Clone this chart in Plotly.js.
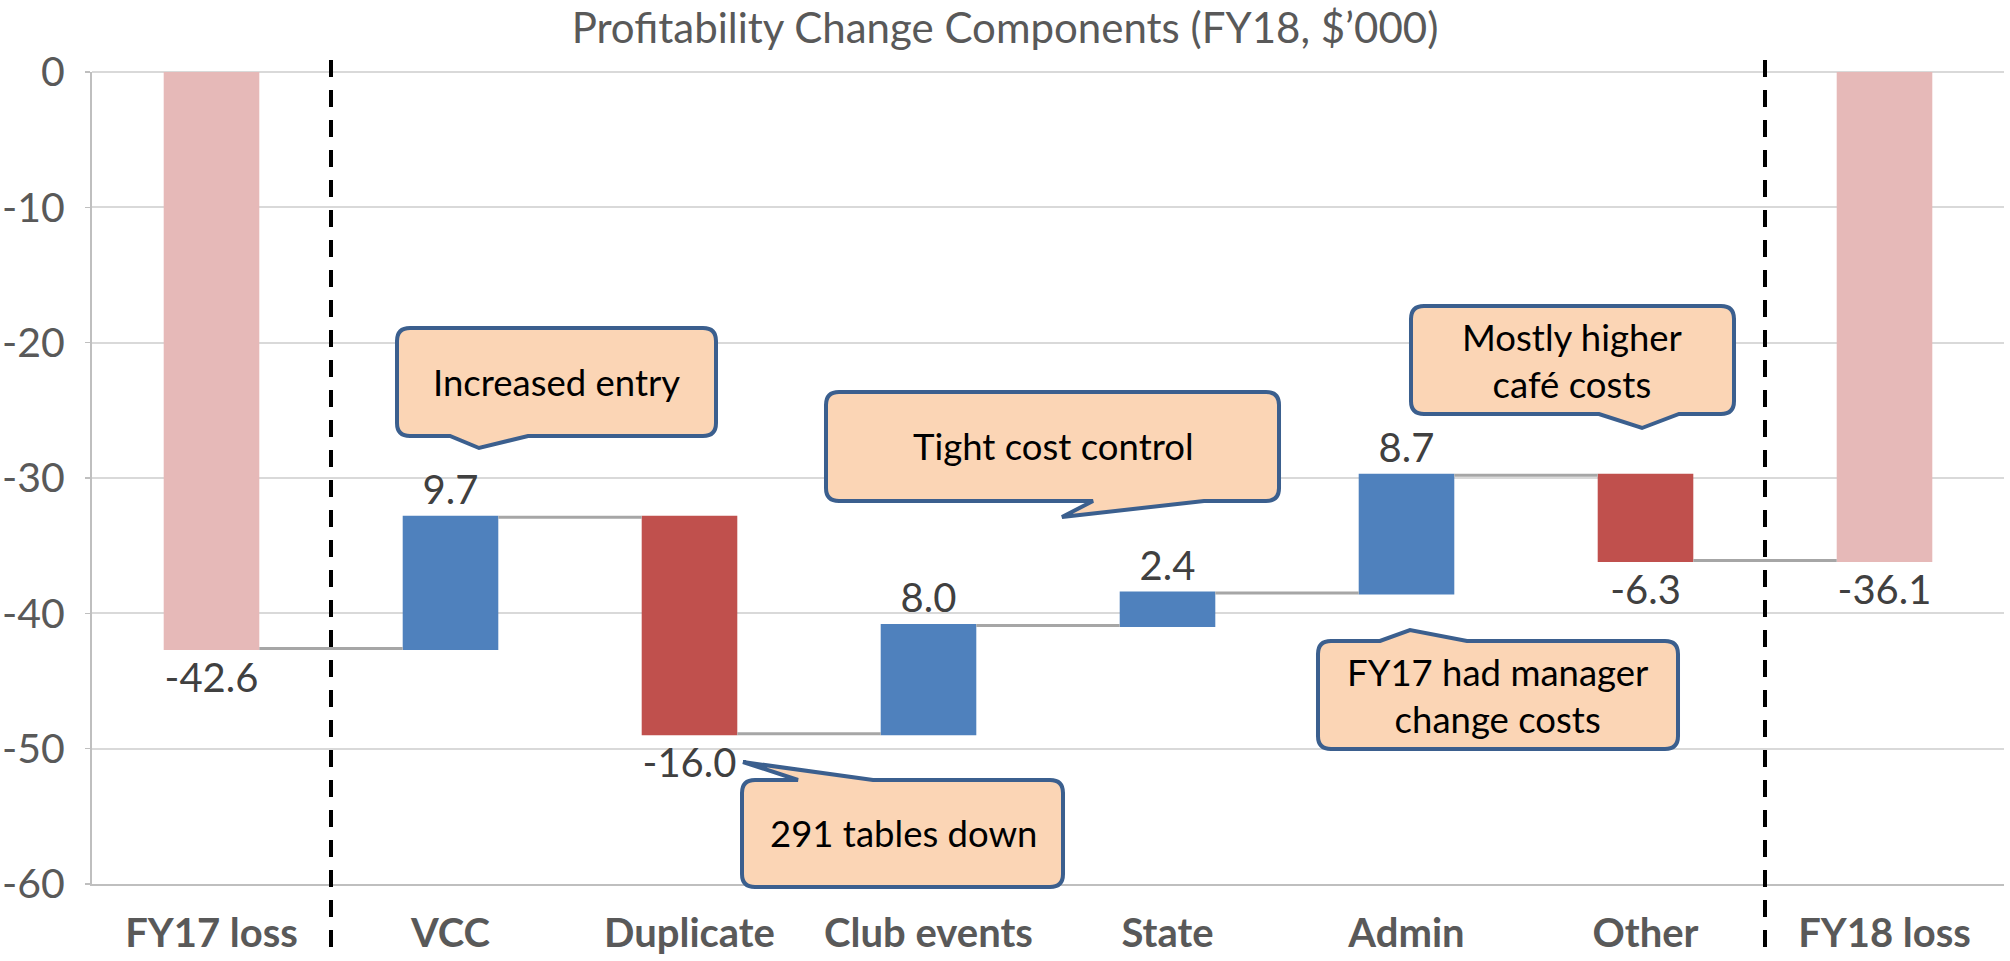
<!DOCTYPE html>
<html>
<head>
<meta charset="utf-8">
<script src="https://cdn.plot.ly/plotly-3.0.1.min.js"></script>
<style>
  html, body { margin: 0; padding: 0; background: #ffffff; }
  #chart { width: 2010px; height: 961px; }
</style>
</head>
<body>
<div id="chart"></div>
<script>
// ---- data ----
const categories = ['FY17 loss', 'VCC', 'Duplicate', 'Club events', 'State', 'Admin', 'Other', 'FY18 loss'];
const changes    = [-42.6, 9.7, -16.0, 8.0, 2.4, 8.7, -6.3, -36.1];
const measures   = ['absolute', 'relative', 'relative', 'relative', 'relative', 'relative', 'relative', 'total'];
const valueLabels = changes.map(v => v.toFixed(1));
const yTickValues = [0, -10, -20, -30, -40, -50, -60];
const chartTitle = 'Profitability Change Components (FY18, $\u2019000)';

// ---- callout annotations (positions in page pixels) ----
const callouts = [
  { text: 'Increased entry', box: [397, 328, 716, 436], tail: { side: 'bottom', base: [450, 528], tip: [479, 448] }, center: [556, 382] },
  { text: 'Tight cost control', box: [826, 392, 1279, 501], tail: { side: 'bottom', base: [1093, 1204], tip: [1062, 517] }, center: [1053, 446] },
  { text: '291 tables down', box: [742, 780, 1063, 887], tail: { side: 'top', base: [798, 873], tip: [743, 762] }, center: [903, 833] },
  { text: 'FY17 had manager<br>change costs', box: [1318, 641, 1678, 749], tail: { side: 'top', base: [1380, 1467], tip: [1410, 630] }, center: [1498, 695] },
  { text: 'Mostly higher<br>caf\u00e9 costs', box: [1411, 306, 1734, 414], tail: { side: 'bottom', base: [1599, 1679], tip: [1642, 428] }, center: [1572, 360] }
];

// ---- layout geometry ----
const W = 2010, H = 961;
const M = { l: 92, r: 6, t: 72, b: 77 };
const plotW = W - M.l - M.r, plotH = H - M.t - M.b;
const px = x => (x - M.l) / plotW;
const py = y => (H - M.b - y) / plotH;
const P = (x, y) => px(x).toFixed(5) + ',' + py(y).toFixed(5);

function calloutPath(c) {
  const [L, T, R, B] = c.box, r = 13;
  let d = 'M' + P(L + r, T);
  if (c.tail.side === 'top') {
    d += ' L' + P(c.tail.base[0], T) + ' L' + P(c.tail.tip[0], c.tail.tip[1]) + ' L' + P(c.tail.base[1], T);
  }
  d += ' L' + P(R - r, T) + ' Q' + P(R, T) + ' ' + P(R, T + r);
  d += ' L' + P(R, B - r) + ' Q' + P(R, B) + ' ' + P(R - r, B);
  if (c.tail.side === 'bottom') {
    d += ' L' + P(c.tail.base[1], B) + ' L' + P(c.tail.tip[0], c.tail.tip[1]) + ' L' + P(c.tail.base[0], B);
  }
  d += ' L' + P(L + r, B) + ' Q' + P(L, B) + ' ' + P(L, B - r);
  d += ' L' + P(L, T + r) + ' Q' + P(L, T) + ' ' + P(L + r, T) + ' Z';
  return d;
}

const FONT = 'Lato, "Open Sans", sans-serif';

const shapes = [];
// dashed separators between totals and components
[0.5, categories.length - 1.5].forEach(xv => {
  shapes.push({
    type: 'line', xref: 'x', yref: 'paper', x0: xv, x1: xv,
    y0: py(947), y1: py(52),
    line: { color: '#000000', width: 4, dash: '17px,13px' }, layer: 'above'
  });
});
callouts.forEach(c => {
  shapes.push({
    type: 'path', xref: 'paper', yref: 'paper', path: calloutPath(c),
    fillcolor: '#FBD5B5', line: { color: '#3B5F8E', width: 4 }, layer: 'above'
  });
});

const annotations = callouts.map(c => ({
  xref: 'paper', yref: 'paper', x: px(c.center[0]), y: py(c.center[1]),
  xanchor: 'center', yanchor: 'middle', showarrow: false, text: c.text,
  font: { family: FONT, size: 36.5, color: '#000000' }, align: 'center'
}));

const trace = {
  type: 'waterfall',
  x: categories,
  y: changes,
  measure: measures,
  text: valueLabels,
  textinfo: 'text',
  textposition: 'outside',
  constraintext: 'none',
  cliponaxis: false,
  textfont: { family: FONT, size: 40, color: '#404040' },
  width: 0.4,
  increasing: { marker: { color: '#4F81BD' } },
  decreasing: { marker: { color: '#C0504D' } },
  totals: { marker: { color: '#E6B9B8' } },
  connector: { mode: 'between', line: { color: '#A6A6A6', width: 3 } },
  hoverinfo: 'skip',
  showlegend: false
};

const layout = {
  width: W, height: H,
  margin: M,
  paper_bgcolor: '#ffffff', plot_bgcolor: '#ffffff',
  showlegend: false,
  title: {
    text: chartTitle, xref: 'paper', x: 0.5 - (M.l - M.r) / 2 / plotW, xanchor: 'center',
    yref: 'container', y: 1 - 28 / H, yanchor: 'middle',
    font: { family: FONT, size: 42, color: '#595959' }
  },
  xaxis: {
    type: 'category',
    showgrid: false, zeroline: false,
    showline: true, linecolor: '#BFBFBF', linewidth: 2,
    ticks: '', ticklabelstandoff: 13,
    tickfont: { family: FONT, size: 40, weight: 'bold', color: '#595959' },
    fixedrange: true
  },
  yaxis: {
    range: [-60, 0], tickvals: yTickValues, ticktext: yTickValues.map(String),
    showgrid: true, gridcolor: '#D9D9D9', gridwidth: 2,
    zeroline: true, zerolinecolor: '#D9D9D9', zerolinewidth: 2,
    showline: true, linecolor: '#BFBFBF', linewidth: 2,
    ticks: 'outside', ticklen: 5, tickcolor: '#BFBFBF', tickwidth: 1.5,
    ticklabelstandoff: 12,
    tickfont: { family: FONT, size: 41, color: '#595959' },
    fixedrange: true
  },
  shapes: shapes,
  annotations: annotations
};

Plotly.newPlot('chart', [trace], layout, { displayModeBar: false, staticPlot: true });
</script>
</body>
</html>
